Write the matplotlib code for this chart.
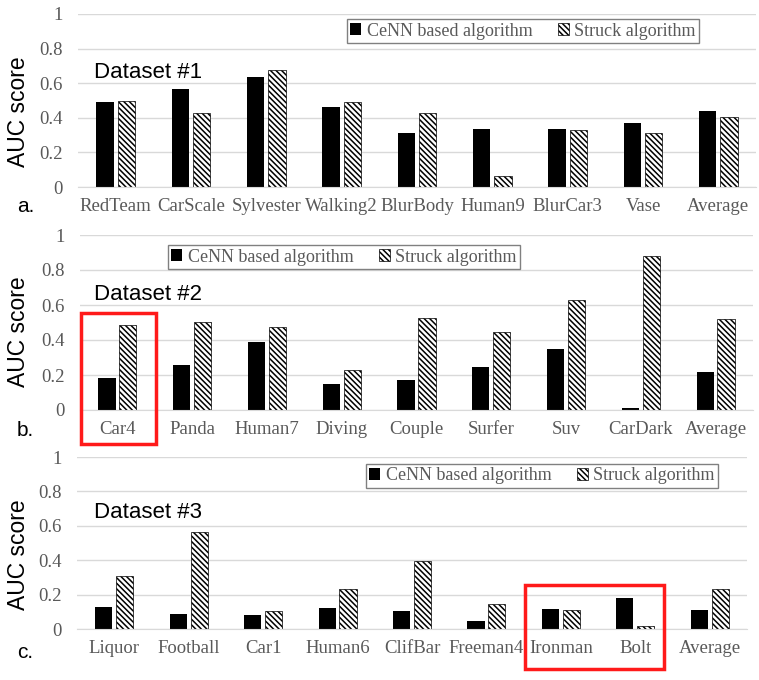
import matplotlib.pyplot as plt
from matplotlib.patches import Rectangle
import numpy as np

# Data
cats_a = ['RedTeam', 'CarScale', 'Sylvester', 'Walking2', 'BlurBody', 'Human9', 'BlurCar3', 'Vase', 'Average']
cenn_a = [0.493, 0.565, 0.634, 0.461, 0.310, 0.333, 0.333, 0.368, 0.437]
struck_a = [0.497, 0.426, 0.678, 0.490, 0.426, 0.064, 0.330, 0.314, 0.403]

cats_b = ['Car4', 'Panda', 'Human7', 'Diving', 'Couple', 'Surfer', 'Suv', 'CarDark', 'Average']
cenn_b = [0.181, 0.257, 0.387, 0.150, 0.170, 0.244, 0.349, 0.011, 0.219]
struck_b = [0.486, 0.505, 0.476, 0.227, 0.524, 0.447, 0.630, 0.880, 0.522]

cats_c = ['Liquor', 'Football', 'Car1', 'Human6', 'ClifBar', 'Freeman4', 'Ironman', 'Bolt', 'Average']
cenn_c = [0.128, 0.089, 0.081, 0.120, 0.105, 0.044, 0.114, 0.182, 0.108]
struck_c = [0.306, 0.564, 0.105, 0.234, 0.395, 0.145, 0.110, 0.015, 0.233]

W, H = 759, 680
plt.rcParams['hatch.linewidth'] = 1.1
fig = plt.figure(figsize=(W / 100, H / 100), dpi=100)

serif = 'Liberation Serif'
sans = 'Liberation Sans'
gray = '#595959'


def px_axes(left, right, y0, y1):
    # y0 = pixel row of value 0, y1 = pixel row of value 1
    return fig.add_axes([left / W, 1 - y0 / H, (right - left) / W, (y0 - y1) / H])


def draw_panel(ax, cats, cenn, struck, leg_xy):
    x = np.arange(len(cats))
    b1 = ax.bar(x - 0.14, cenn, 0.23, color='black', label='CeNN based algorithm')
    b2 = ax.bar(x + 0.14, struck, 0.23, color='white', edgecolor='black',
                linewidth=0.5, hatch='\\\\\\\\\\\\', label='Struck algorithm')
    ax.set_xlim(-0.5, len(cats) - 0.5)
    ax.set_ylim(0, 1)
    ax.set_yticks([0, 0.2, 0.4, 0.6, 0.8, 1])
    ax.set_yticklabels(['0', '0.2', '0.4', '0.6', '0.8', '1'])
    ax.set_xticks(x)
    ax.set_xticklabels(cats)
    ax.grid(axis='y', color='#d9d9d9', linewidth=1)
    ax.set_axisbelow(True)
    for s in ['top', 'right', 'left']:
        ax.spines[s].set_visible(False)
    ax.spines['bottom'].set_color('#d9d9d9')
    ax.tick_params(axis='both', length=0, colors=gray)
    ax.tick_params(axis='y', pad=11)
    ax.tick_params(axis='x', pad=8)
    for lab in ax.get_xticklabels() + ax.get_yticklabels():
        lab.set_fontfamily(serif)
        lab.set_fontsize(13.5)
    leg = ax.legend(handles=[b1, b2], loc='center', bbox_to_anchor=(leg_xy[0] / W, 1 - leg_xy[1] / H),
                    bbox_transform=fig.transFigure, ncol=2, fancybox=False, framealpha=1,
                    edgecolor='#808080', prop={'family': serif, 'size': 13},
                    handlelength=0.6, handleheight=0.6, handletextpad=0.3, columnspacing=1.4,
                    borderpad=0.2)
    leg.get_frame().set_linewidth(1)
    for t in leg.get_texts():
        t.set_color(gray)


ax_a = px_axes(78, 756, 187, 14)
draw_panel(ax_a, cats_a, cenn_a, struck_a, (523, 31))
ax_b = px_axes(80, 753, 410, 235)
draw_panel(ax_b, cats_b, cenn_b, struck_b, (344, 257))
ax_c = px_axes(77, 747, 629, 457)
draw_panel(ax_c, cats_c, cenn_c, struck_c, (542, 476))

# labels
for yc in [112, 332, 555]:
    fig.text(19 / W, 1 - yc / H, 'AUC score', rotation=90, ha='center', va='center',
             family=sans, fontsize=16.5)
for txt, yc in [('Dataset #1', 72), ('Dataset #2', 295), ('Dataset #3', 513)]:
    fig.text(94 / W, 1 - yc / H, txt, ha='left', va='center', family=sans, fontsize=16)
for txt, yc in [('a.', 206), ('b.', 431), ('c.', 652)]:
    fig.text(17 / W, 1 - yc / H, txt, ha='left', va='center', family=sans, fontsize=15)

# red highlight boxes
for x0, y0, x1, y1 in [(81, 313, 156, 444), (525, 585, 664, 669)]:
    fig.add_artist(Rectangle((x0 / W, 1 - y1 / H), (x1 - x0) / W, (y1 - y0) / H,
                             transform=fig.transFigure, fill=False, edgecolor='#ff1a1a',
                             linewidth=2.5))

fig.savefig('out.png', dpi=100)
